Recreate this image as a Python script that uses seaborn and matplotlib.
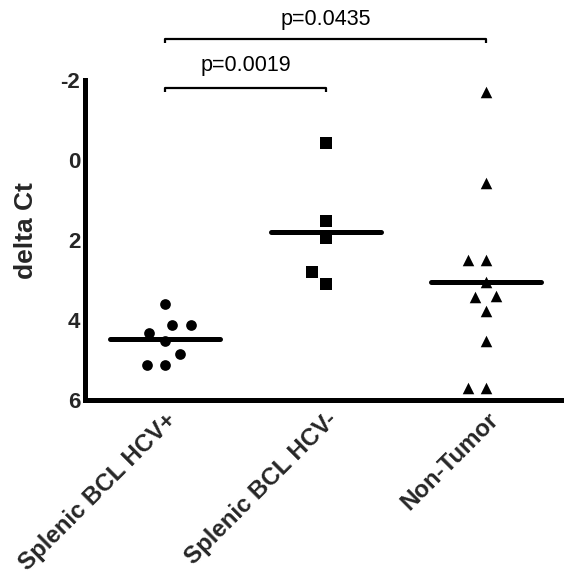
import numpy as np
import pandas as pd
import matplotlib
matplotlib.use("Agg")
import matplotlib.pyplot as plt
import seaborn as sns

groups = ["Splenic BCL HCV+", "Splenic BCL HCV-", "Non-Tumor"]
hcv_pos = [3.61, 4.12, 4.12, 4.32, 4.52, 4.85, 5.12, 5.12]
hcv_neg = [-0.43, 1.52, 1.96, 2.81, 3.10]
non_tumor = [-1.69, 0.58, 2.50, 2.50, 3.04, 3.40, 3.43, 3.77, 4.52, 5.69, 5.69]
comparisons = [("Splenic BCL HCV+", "Splenic BCL HCV-", "p=0.0019"),
               ("Splenic BCL HCV+", "Non-Tumor", "p=0.0435")]

df = pd.DataFrame({
    "group": [groups[0]] * len(hcv_pos) + [groups[1]] * len(hcv_neg) + [groups[2]] * len(non_tumor),
    "dct": hcv_pos + hcv_neg + non_tumor,
})

sns.set_theme(style="white")
plt.rcParams["font.family"] = ["Liberation Sans", "DejaVu Sans"]

fig = plt.figure(figsize=(5.64, 5.77), dpi=100)
fig.patch.set_facecolor("white")
ax = fig.add_axes([0.1507, 0.3068, 0.8493, 0.5546])
ax.set_xlim(-0.5, 2.484)
ax.set_ylim(6, -2)

markers = ["o", "s", "^"]
marker_sizes = [7.7, 8.6, 8.3]
swarm_spacing = 12.5  # points spread as if markers were this wide
swarm_colls = []
for g, m, s in zip(groups, markers, marker_sizes):
    n_before = len(ax.collections)
    sns.swarmplot(data=df[df["group"] == g], x="group", y="dct", order=groups,
                  marker=m, size=swarm_spacing, color="black", linewidth=0, ax=ax)
    for coll in ax.collections[n_before:]:
        swarm_colls.append((coll, s))
ax.set_xlim(-0.5, 2.484)
ax.set_ylim(6, -2)

# lay out the swarms once, then keep those positions and shrink the markers
fig.canvas.draw()
for coll, s in swarm_colls:
    if "draw" in coll.__dict__:
        del coll.draw
    coll.set_sizes([s ** 2])

# mean lines
means = df.groupby("group")["dct"].mean()
for i, g in enumerate(groups):
    ax.hlines(means[g], i - 0.343, i + 0.343, color="black", lw=3.6, zorder=5,
              capstyle="round")

# significance brackets
bracket_levels = [(-1.8, -2.37), (-3.03, -3.5)]
for (a, b, label), (yb, yt) in zip(comparisons, bracket_levels):
    xa, xb = groups.index(a), groups.index(b)
    ax.plot([xa, xa, xb, xb], [yb + 0.11, yb, yb, yb + 0.11], color="black",
            lw=1.6, clip_on=False, solid_capstyle="butt")
    ax.text((xa + xb) / 2, yt, label, ha="center", va="center", fontsize=15.5,
            color="black", clip_on=False)

for side in ["top", "right"]:
    ax.spines[side].set_visible(False)
for side in ["left", "bottom"]:
    ax.spines[side].set_linewidth(3.6)
    ax.spines[side].set_color("black")

ax.set_yticks([-2, 0, 2, 4, 6])
ax.set_yticklabels(["-2", "0", "2", "4", "6"])
ax.tick_params(axis="y", which="major", direction="out", length=3, width=2.5,
               color="black", pad=0.5, labelsize=16)
ax.tick_params(axis="x", which="major", direction="out", length=4, width=2.5,
               color="black", pad=2, labelsize=17.3)
for lab in ax.get_yticklabels():
    lab.set_fontweight("bold")
for lab in ax.get_xticklabels():
    lab.set_fontweight("bold")
    lab.set_rotation(45)
    lab.set_ha("right")
    lab.set_rotation_mode("anchor")

ax.set_xlabel("")
ax.set_ylabel("delta Ct", fontsize=19, fontweight="bold")
ax.yaxis.set_label_coords(-0.098, 0.53)

fig.savefig("out.png", dpi=100, facecolor="white")
